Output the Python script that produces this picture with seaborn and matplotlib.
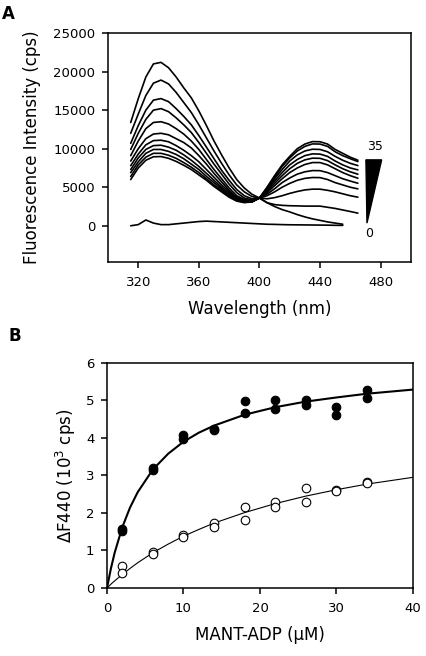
import numpy as np
import pandas as pd
import seaborn as sns
import matplotlib.pyplot as plt
from matplotlib.patches import Polygon

# Panel A: emission spectra (cps), every 5 nm
wavelength = [315, 320, 325, 330, 335, 340, 345, 350, 355, 360, 365, 370, 375, 380, 385, 390,
              395, 400, 405, 410, 415, 420, 425, 430, 435, 440, 445, 450, 455, 460, 465]

# curve without ligand and buffer baseline stop at 455 nm
spec_0 = [13400, 16500, 19300, 21000, 21200, 20500, 19300, 17900, 16600, 14900, 13000, 11000,
          9200, 7500, 6000, 4900, 4100, 3600, 3000, 2500, 2100, 1800, 1450, 1150, 900, 700, 500,
          350, 200]
baseline = [0, 150, 750, 350, 150, 150, 250, 350, 450, 550, 600, 550, 500, 450, 400, 350, 300,
            250, 200, 180, 150, 130, 120, 110, 100, 90, 80, 60, 50]

spec_1 = [12000, 14500, 16900, 18500, 18900, 18400, 17300, 16000, 14700, 13100, 11400, 9700,
          8100, 6600, 5300, 4400, 3800, 3600, 3000, 2750, 2650, 2600, 2580, 2550, 2550, 2550,
          2400, 2250, 2050, 1850, 1640]
spec_2 = [10700, 13000, 15000, 16300, 16500, 16100, 15200, 14200, 13100, 11700, 10200, 8700,
          7200, 5900, 4700, 3900, 3500, 3600, 3500, 3650, 3900, 4200, 4450, 4650, 4750, 4750,
          4600, 4400, 4150, 3900, 3710]
spec_3 = [9900, 12000, 13800, 15000, 15200, 14800, 14000, 13100, 12100, 10800, 9400, 8000,
          6700, 5400, 4300, 3600, 3350, 3600, 3900, 4400, 5000, 5500, 5900, 6150, 6260, 6250,
          6000, 5600, 5300, 5000, 4790]
spec_4 = [9100, 11000, 12600, 13400, 13500, 13200, 12600, 11900, 11000, 9900, 8600, 7300,
          6100, 4900, 3900, 3400, 3250, 3600, 4100, 4800, 5600, 6200, 6700, 7000, 7160, 7150,
          6900, 6500, 6100, 5800, 5520]
spec_5 = [8400, 10000, 11300, 11900, 12000, 11800, 11300, 10800, 10100, 9100, 8000, 6800,
          5700, 4600, 3700, 3250, 3200, 3600, 4300, 5200, 6100, 6900, 7500, 7950, 8200, 8200,
          7900, 7400, 6900, 6500, 6170]
spec_6 = [7800, 9300, 10500, 11050, 11100, 10900, 10400, 9800, 9100, 8300, 7300, 6300,
          5300, 4400, 3600, 3200, 3150, 3600, 4450, 5500, 6500, 7400, 8100, 8550, 8770, 8750,
          8450, 7900, 7400, 7000, 6690]
spec_7 = [7300, 8800, 9900, 10400, 10450, 10200, 9800, 9200, 8500, 7700, 6800, 5900,
          5000, 4200, 3500, 3150, 3100, 3600, 4600, 5800, 6900, 7900, 8600, 9100, 9330, 9300,
          9000, 8400, 7900, 7500, 7250]
spec_8 = [6900, 8300, 9400, 9900, 9900, 9650, 9250, 8700, 8000, 7300, 6400, 5600,
          4800, 4000, 3400, 3100, 3100, 3600, 4750, 6100, 7300, 8400, 9200, 9700, 9930, 9900,
          9600, 9000, 8500, 8100, 7810]
spec_9 = [6400, 7900, 8900, 9400, 9400, 9150, 8750, 8200, 7600, 6900, 6100, 5300,
          4600, 3850, 3300, 3050, 3100, 3600, 4900, 6300, 7700, 8800, 9700, 10300, 10620, 10600,
          10300, 9600, 9100, 8700, 8330]
spec_10 = [6000, 7500, 8500, 8950, 8980, 8750, 8350, 7850, 7300, 6600, 5900, 5100,
           4400, 3700, 3200, 3000, 3100, 3600, 5000, 6500, 7900, 9000, 10000, 10600, 10920, 10900,
           10600, 9900, 9400, 8900, 8500]

# Panel B: titration at 440 nm (10^3 cps)
conc = [2, 2, 6, 6, 10, 10, 14, 14, 18, 18, 22, 22, 26, 26, 30, 30, 34, 34]
dF_filled = [1.53, 1.57, 3.14, 3.20, 4.09, 3.96, 4.20, 4.23, 4.98, 4.66, 5.02, 4.76,
             5.00, 4.88, 4.82, 4.62, 5.27, 5.07]
dF_open = [0.58, 0.40, 0.95, 0.90, 1.42, 1.35, 1.74, 1.62, 2.15, 1.80, 2.29, 2.15,
           2.66, 2.29, 2.61, 2.58, 2.83, 2.81]

# fitted curves as drawn in the figure
fit_conc = [0, 0.5, 1, 2, 3, 4, 6, 8, 10, 12, 14, 18, 22, 26, 30, 34, 40]
fit_filled = [0, 0.51, 0.94, 1.62, 2.14, 2.55, 3.16, 3.58, 3.90, 4.14, 4.33, 4.62, 4.82,
              4.97, 5.08, 5.18, 5.29]
fit_open = [0, 0.10, 0.19, 0.36, 0.52, 0.67, 0.94, 1.17, 1.38, 1.56, 1.73, 2.01, 2.25,
            2.45, 2.62, 2.77, 2.95]

sns.set_style("ticks")
plt.rcParams['font.family'] = ['DejaVu Sans']
plt.rcParams['mathtext.default'] = 'regular'
plt.rcParams['text.color'] = 'black'
plt.rcParams['axes.labelcolor'] = 'black'
plt.rcParams['axes.edgecolor'] = 'black'
plt.rcParams['xtick.color'] = 'black'
plt.rcParams['ytick.color'] = 'black'
plt.rcParams['xtick.major.size'] = 4
plt.rcParams['ytick.major.size'] = 4
plt.rcParams['axes.linewidth'] = 1.1
plt.rcParams['xtick.major.width'] = 1.1
plt.rcParams['ytick.major.width'] = 1.1
plt.rcParams['xtick.major.pad'] = 6
plt.rcParams['ytick.major.pad'] = 5

fig = plt.figure(figsize=(4.26, 6.56), dpi=100)
ax1 = fig.add_axes([0.2535, 0.6006, 0.711, 0.349])
ax2 = fig.add_axes([0.2512, 0.1037, 0.718, 0.343])

# long-form table for the spectra
curves = [spec_0, spec_1, spec_2, spec_3, spec_4, spec_5, spec_6, spec_7, spec_8, spec_9,
          spec_10, baseline]
frames = []
for i, vals in enumerate(curves):
    frames.append(pd.DataFrame({'wavelength': wavelength[:len(vals)],
                                'intensity': vals, 'curve': i}))
df_spec = pd.concat(frames, ignore_index=True)

sns.lineplot(data=df_spec, x='wavelength', y='intensity', units='curve', estimator=None,
             color='black', lw=1.2, legend=False, ax=ax1)
ax1.set_xlim(300, 500)
ax1.set_ylim(-4700, 25000)
ax1.set_xticks([320, 360, 400, 440, 480])
ax1.set_yticks([0, 5000, 10000, 15000, 20000, 25000])
ax1.set_xlabel('Wavelength (nm)', fontsize=12, labelpad=8)
ax1.set_ylabel('Fluorescence Intensity (cps)', fontsize=12, labelpad=9)
ax1.tick_params(labelsize=9.5)

# concentration wedge 0 -> 35
ax1.add_patch(Polygon([(470.3, 8550), (480.7, 8550), (471, 350)], closed=True,
                      facecolor='black', edgecolor='black'))
ax1.text(476.5, 10270, '35', ha='center', va='center', fontsize=9)
ax1.text(472.5, -950, '0', ha='center', va='center', fontsize=9)

# panel B
df_pts = pd.DataFrame({'conc': conc, 'filled': dF_filled, 'open': dF_open})
df_fit = pd.DataFrame({'conc': fit_conc, 'filled': fit_filled, 'open': fit_open})

sns.lineplot(data=df_fit, x='conc', y='filled', color='black', lw=1.5, ax=ax2)
sns.lineplot(data=df_fit, x='conc', y='open', color='black', lw=0.8, ax=ax2)
sns.scatterplot(data=df_pts, x='conc', y='filled', color='black', edgecolor='black',
                s=38, linewidth=0.8, zorder=3, ax=ax2)
sns.scatterplot(data=df_pts, x='conc', y='open', color='white', edgecolor='black',
                s=38, linewidth=0.8, zorder=3, ax=ax2)
ax2.set_xlim(0, 40)
ax2.set_ylim(0, 6)
ax2.set_xticks([0, 10, 20, 30, 40])
ax2.set_yticks([0, 1, 2, 3, 4, 5, 6])
ax2.set_xlabel('MANT-ADP (\u03bcM)', fontsize=12, labelpad=8)
ax2.set_ylabel(r'$\Delta$F440 (10$^3$ cps)', fontsize=12, labelpad=6)
ax2.tick_params(labelsize=9.5)

fig.text(0.019, 0.979, 'A', fontsize=12, fontweight='bold', ha='center', va='center')
fig.text(0.035, 0.488, 'B', fontsize=12, fontweight='bold', ha='center', va='center')

fig.savefig('out.png', dpi=100)
